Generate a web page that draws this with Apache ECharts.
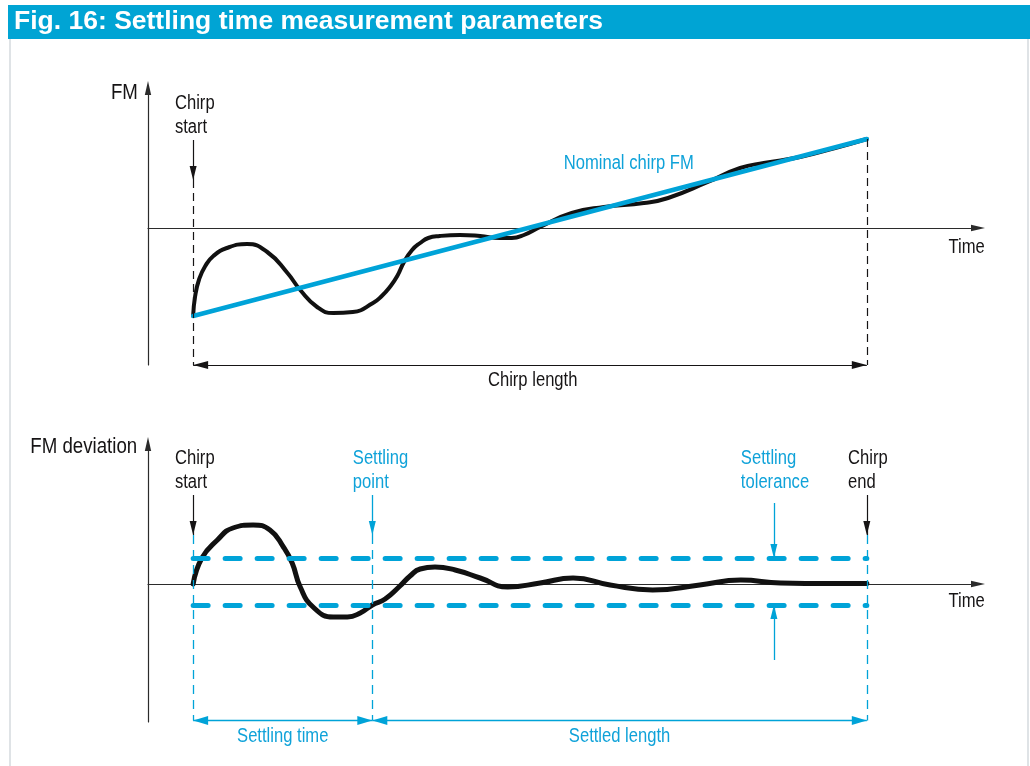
<!DOCTYPE html>
<html>
<head>
<meta charset="utf-8">
<script src="https://cdn.jsdelivr.net/npm/echarts@6/dist/echarts.min.js"></script>
<style>
  html, body { margin: 0; padding: 0; background: #ffffff; }
  #chart { width: 1030px; height: 766px; }
</style>
</head>
<body>
<div id="chart"></div>
<script>
// Time is normalised so that the chirp runs from t = 0 to t = 100
const chirpStart = 0;
const chirpEnd = 100;
const settlingPoint = 26.6;
const toleranceMarkT = 86.2;

// Upper panel: measured FM and the nominal (linear) chirp FM
const fmTime  = [0, 0.3, 0.9, 1.8, 3.0, 5.0, 8.0, 11.0, 14.0, 15.9, 18.4, 20.8, 23.7, 26.7, 28.0, 29.2, 30.3, 31.3, 32.5, 33.7, 34.9, 36.6, 39.6, 42.6, 45.5, 47.3, 49.1, 51.5, 56.2, 61.0, 66.9, 70.5, 76.4, 81.2, 84.7, 90.1, 95.3, 100];
const fmValue = [-8.8, -6.8, -5.1, -3.8, -2.8, -2.0, -1.6, -2.4, -4.5, -6.2, -7.9, -8.5, -8.4, -7.5, -6.8, -5.9, -4.8, -3.4, -2.2, -1.5, -1.0, -0.8, -0.7, -0.8, -1.0, -1.0, -0.7, 0.1, 1.5, 2.1, 2.5, 3.0, 4.6, 6.0, 6.5, 7.1, 8.0, 8.9];
const nominalTime  = [0, 100];
const nominalValue = [-8.8, 8.9];

// Lower panel: FM deviation from the nominal chirp
const devTime  = [0, 1.3, 3.6, 5.9, 8.9, 11.4, 13.4, 14.7, 15.9, 17.8, 20.8, 22.9, 24.8, 26.6, 28.5, 30.7, 32.2, 33.7, 35.9, 38.9, 42.6, 46.7, 51.5, 56.4, 61.9, 68.2, 75.2, 81.3, 87.2, 94.5, 100];
const devValue = [0, 2.6, 4.4, 5.6, 5.9, 5.4, 3.7, 2.1, -0.3, -2.3, -3.3, -3.3, -2.9, -2.1, -1.5, -0.2, 0.8, 1.5, 1.7, 1.4, 0.6, -0.3, 0.1, 0.6, -0.1, -0.6, -0.1, 0.4, 0.1, 0.05, 0.05];
const toleranceUpper = 2.6;
const toleranceLower = -2.1;

// Axis ranges (time, FM, deviation)
const timeRange = [-6.7, 116.5];
const fmRange   = [-13.7, 14.0];
const devRange  = [-13.8, 14.0];

const BLUE = '#00a3d8';
const BLUE_TEXT = '#0fa2d9';
const INK = '#161415';
const LABEL_FONT = '20px "Liberation Sans", Arial, sans-serif';
const AXIS_TITLE_FONT = '22.5px "Liberation Sans", Arial, sans-serif';
const CONDENSE = 0.83;
const ARROW = 'path://M5,0L10,22L0,22Z';

const zip = (xs, ys) => xs.map((x, i) => [x, ys[i]]);

// Arrow-tipped end point for a markLine segment
function tip(coord, size) {
  const s = size || [7, 13];
  return { coord: coord, symbol: ARROW, symbolSize: s, symbolOffset: [0, s[1] / 2] };
}
function plain(coord) {
  return { coord: coord, symbol: 'none' };
}

// Helper series that only carries annotation lines on one grid
function annotations(gridIdx, lineStyle, lines) {
  return {
    type: 'line', xAxisIndex: gridIdx, yAxisIndex: gridIdx, data: [],
    silent: true, animation: false,
    markLine: {
      silent: true, animation: false, symbol: 'none',
      label: { show: false }, emphasis: { disabled: true },
      lineStyle: Object.assign({ type: 'solid' }, lineStyle),
      data: lines
    }
  };
}

function xAxisFor(gridIdx) {
  return {
    type: 'value', gridIndex: gridIdx, min: timeRange[0], max: timeRange[1],
    axisLine: { onZero: true, symbol: ['none', ARROW], symbolSize: [8, 14],
      lineStyle: { color: '#2b2b2b', width: 1.2 } },
    axisTick: { show: false }, axisLabel: { show: false }, splitLine: { show: false }
  };
}
function yAxisFor(gridIdx, range) {
  return {
    type: 'value', gridIndex: gridIdx, min: range[0], max: range[1],
    axisLine: { show: true, onZero: false, symbol: ['none', ARROW], symbolSize: [8, 14],
      lineStyle: { color: '#2b2b2b', width: 1.2 } },
    axisTick: { show: false }, axisLabel: { show: false }, splitLine: { show: false }
  };
}

// Text labels, anchored at data coordinates of each panel
const labels = [
  { grid: 0, at: [-8.2, 13.5], text: 'FM', align: 'right', font: AXIS_TITLE_FONT },
  { grid: 0, at: [-2.7, 11.3], text: 'Chirp\nstart' },
  { grid: 0, at: [55.0, 6.5], text: 'Nominal chirp FM', color: BLUE_TEXT },
  { grid: 0, at: [117.5, -1.9], text: 'Time', align: 'right' },
  { grid: 0, at: [50.4, -15.2], text: 'Chirp length', align: 'center' },
  { grid: 1, at: [-8.3, 13.7], text: 'FM deviation', align: 'right', font: AXIS_TITLE_FONT },
  { grid: 1, at: [-2.7, 11.4], text: 'Chirp\nstart' },
  { grid: 1, at: [23.7, 11.4], text: 'Settling\npoint', color: BLUE_TEXT },
  { grid: 1, at: [81.3, 11.4], text: 'Settling\ntolerance', color: BLUE_TEXT },
  { grid: 1, at: [97.2, 11.4], text: 'Chirp\nend' },
  { grid: 1, at: [117.5, -1.7], text: 'Time', align: 'right' },
  { grid: 1, at: [13.3, -15.2], text: 'Settling time', align: 'center', color: BLUE_TEXT },
  { grid: 1, at: [63.3, -15.2], text: 'Settled length', align: 'center', color: BLUE_TEXT }
];

const frame = [
  { type: 'rect', z: -1, shape: { x: 8, y: 5, width: 1022, height: 34 }, style: { fill: '#00a4d4' } },
  { type: 'line', shape: { x1: 10, y1: 39, x2: 10, y2: 766 }, style: { stroke: '#dfe3e6', lineWidth: 2 } },
  { type: 'line', shape: { x1: 1028, y1: 39, x2: 1028, y2: 766 }, style: { stroke: '#dfe3e6', lineWidth: 2 } }
];

const chart = echarts.init(document.getElementById('chart'), null, { renderer: 'canvas' });

const blackDash = { color: INK, width: 1.2, type: [8, 5] };
const blueDash = { color: BLUE, width: 1.3, type: [9, 6] };

chart.setOption({
  animation: false,
  backgroundColor: '#ffffff',
  title: {
    text: 'Fig. 16: Settling time measurement parameters',
    left: 14, top: 8, padding: 0,
    textStyle: { color: '#ffffff', fontFamily: '"Liberation Sans", Arial, sans-serif',
      fontWeight: 'bold', fontSize: 26.5, lineHeight: 28 }
  },
  graphic: frame,
  grid: [
    { left: 148, width: 830, top: 88, height: 277 },
    { left: 148, width: 830, top: 444, height: 278 }
  ],
  xAxis: [xAxisFor(0), xAxisFor(1)],
  yAxis: [yAxisFor(0, fmRange), yAxisFor(1, devRange)],
  series: [
    // measured FM
    {
      type: 'line', xAxisIndex: 0, yAxisIndex: 0, z: 3,
      data: zip(fmTime, fmValue), smooth: 0.5, symbol: 'none', silent: true,
      lineStyle: { color: '#111', width: 4, cap: 'round', join: 'round' }
    },
    // nominal chirp FM
    {
      type: 'line', xAxisIndex: 0, yAxisIndex: 0, z: 4,
      data: zip(nominalTime, nominalValue), symbol: 'none', silent: true,
      lineStyle: { color: BLUE, width: 4.5, cap: 'round' }
    },
    // FM deviation
    {
      type: 'line', xAxisIndex: 1, yAxisIndex: 1, z: 4,
      data: zip(devTime, devValue), smooth: 0.5, symbol: 'none', silent: true,
      lineStyle: { color: '#111', width: 5, cap: 'round', join: 'round' }
    },
    // settling tolerance band edges
    annotations(1, { color: BLUE, width: 5, type: [15, 17], cap: 'round' }, [
      [plain([chirpStart, toleranceUpper]), plain([chirpEnd, toleranceUpper])],
      [plain([chirpStart, toleranceLower]), plain([chirpEnd, toleranceLower])]
    ]),
    // upper panel: chirp start / end markers and chirp length
    annotations(0, blackDash, [
      [plain([chirpStart, 4.8]), plain([chirpStart, fmRange[0]])],
      [plain([chirpEnd, 8.9]), plain([chirpEnd, fmRange[0]])]
    ]),
    annotations(0, { color: INK, width: 1.2 }, [
      [plain([chirpStart, 8.8]), tip([chirpStart, 4.8], [7, 14])],
      [tip([chirpStart, fmRange[0]], [8, 15]), tip([chirpEnd, fmRange[0]], [8, 15])]
    ]),
    // lower panel: markers
    annotations(1, { color: INK, width: 1.2 }, [
      [plain([chirpStart, 8.9]), tip([chirpStart, 4.9], [7, 14])],
      [plain([chirpEnd, 8.9]), tip([chirpEnd, 4.9], [7, 14])]
    ]),
    annotations(1, { color: BLUE, width: 1.3 }, [
      [plain([settlingPoint, 8.9]), tip([settlingPoint, 4.9], [7, 14])],
      [plain([toleranceMarkT, 8.1]), tip([toleranceMarkT, toleranceUpper], [7, 14])],
      [plain([toleranceMarkT, -7.6]), tip([toleranceMarkT, toleranceLower], [7, 14])],
      [tip([chirpStart, -13.65], [9, 15]), tip([settlingPoint, -13.65], [9, 15])],
      [tip([settlingPoint, -13.65], [9, 15]), tip([chirpEnd, -13.65], [9, 15])]
    ]),
    annotations(1, blueDash, [
      [plain([chirpStart, 4.9]), plain([chirpStart, -13.65])],
      [plain([settlingPoint, 4.9]), plain([settlingPoint, -13.65])],
      [plain([chirpEnd, 4.9]), plain([chirpEnd, -13.65])]
    ])
  ]
});

// Place the (condensed) text labels through each grid's own scales
const labelGraphics = labels.map(d => {
  const p = chart.convertToPixel({ gridIndex: d.grid }, d.at);
  return {
    type: 'text', x: p[0], y: p[1], scaleX: CONDENSE, silent: true, z: 10,
    style: {
      text: d.text, font: d.font || LABEL_FONT, fill: d.color || INK,
      align: d.align || 'left', verticalAlign: 'middle', lineHeight: 24
    }
  };
});
chart.setOption({ graphic: frame.concat(labelGraphics) });
</script>
</body>
</html>
